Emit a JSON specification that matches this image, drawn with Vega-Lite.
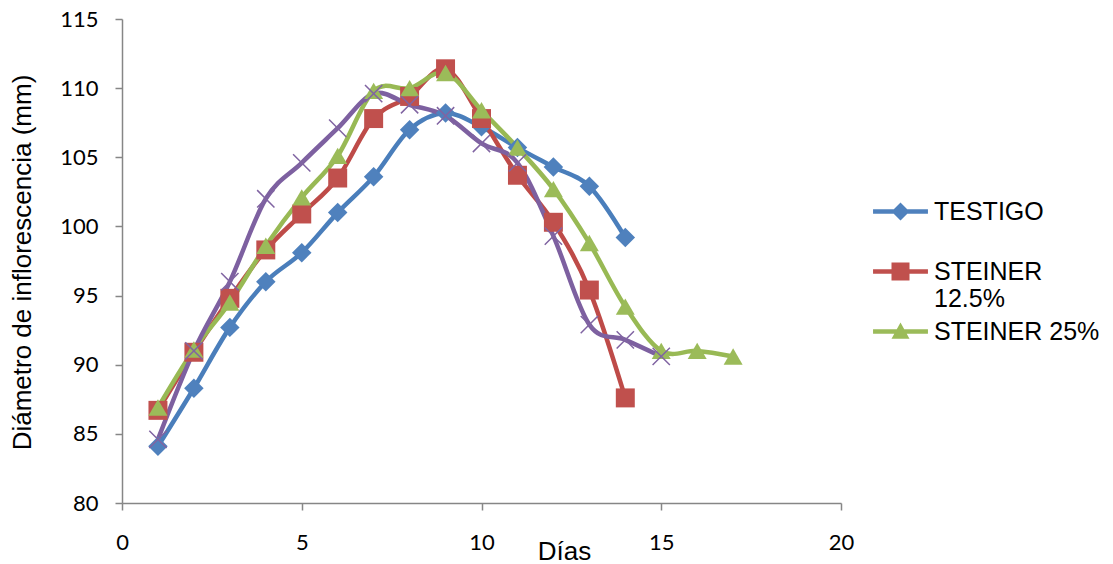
{
  "$schema": "https://vega.github.io/schema/vega-lite/v6.json",
  "width": 719,
  "height": 484,
  "autosize": "none",
  "padding": {"left": 122, "top": 19, "right": 272, "bottom": 61},
  "background": "white",
  "config": {"view": {"stroke": null}},
  "data": {"values": [
    {"series": "TESTIGO", "dia": 1, "diametro": 84.1},
    {"series": "TESTIGO", "dia": 2, "diametro": 88.3},
    {"series": "TESTIGO", "dia": 3, "diametro": 92.7},
    {"series": "TESTIGO", "dia": 4, "diametro": 96.0},
    {"series": "TESTIGO", "dia": 5, "diametro": 98.1},
    {"series": "TESTIGO", "dia": 6, "diametro": 101.0},
    {"series": "TESTIGO", "dia": 7, "diametro": 103.6},
    {"series": "TESTIGO", "dia": 8, "diametro": 107.0},
    {"series": "TESTIGO", "dia": 9, "diametro": 108.2},
    {"series": "TESTIGO", "dia": 10, "diametro": 107.2},
    {"series": "TESTIGO", "dia": 11, "diametro": 105.7},
    {"series": "TESTIGO", "dia": 12, "diametro": 104.3},
    {"series": "TESTIGO", "dia": 13, "diametro": 102.9},
    {"series": "TESTIGO", "dia": 14, "diametro": 99.2},
    {"series": "STEINER 12.5%", "dia": 1, "diametro": 86.7},
    {"series": "STEINER 12.5%", "dia": 2, "diametro": 90.9},
    {"series": "STEINER 12.5%", "dia": 3, "diametro": 94.8},
    {"series": "STEINER 12.5%", "dia": 4, "diametro": 98.3},
    {"series": "STEINER 12.5%", "dia": 5, "diametro": 100.9},
    {"series": "STEINER 12.5%", "dia": 6, "diametro": 103.5},
    {"series": "STEINER 12.5%", "dia": 7, "diametro": 107.8},
    {"series": "STEINER 12.5%", "dia": 8, "diametro": 109.4},
    {"series": "STEINER 12.5%", "dia": 9, "diametro": 111.4},
    {"series": "STEINER 12.5%", "dia": 10, "diametro": 107.8},
    {"series": "STEINER 12.5%", "dia": 11, "diametro": 103.7},
    {"series": "STEINER 12.5%", "dia": 12, "diametro": 100.3},
    {"series": "STEINER 12.5%", "dia": 13, "diametro": 95.4},
    {"series": "STEINER 12.5%", "dia": 14, "diametro": 87.6},
    {"series": "STEINER 25%", "dia": 1, "diametro": 86.9},
    {"series": "STEINER 25%", "dia": 2, "diametro": 91.1},
    {"series": "STEINER 25%", "dia": 3, "diametro": 94.5},
    {"series": "STEINER 25%", "dia": 4, "diametro": 98.6},
    {"series": "STEINER 25%", "dia": 5, "diametro": 102.1},
    {"series": "STEINER 25%", "dia": 6, "diametro": 105.1},
    {"series": "STEINER 25%", "dia": 7, "diametro": 109.8},
    {"series": "STEINER 25%", "dia": 8, "diametro": 110.0},
    {"series": "STEINER 25%", "dia": 9, "diametro": 111.1},
    {"series": "STEINER 25%", "dia": 10, "diametro": 108.4},
    {"series": "STEINER 25%", "dia": 11, "diametro": 105.7},
    {"series": "STEINER 25%", "dia": 12, "diametro": 102.7},
    {"series": "STEINER 25%", "dia": 13, "diametro": 98.8},
    {"series": "STEINER 25%", "dia": 14, "diametro": 94.2},
    {"series": "STEINER 25%", "dia": 15, "diametro": 91.0},
    {"series": "STEINER 25%", "dia": 16, "diametro": 91.0},
    {"series": "STEINER 25%", "dia": 17, "diametro": 90.6},
    {"series": "Serie 4", "dia": 1, "diametro": 84.6},
    {"series": "Serie 4", "dia": 2, "diametro": 91.0},
    {"series": "Serie 4", "dia": 3, "diametro": 96.0},
    {"series": "Serie 4", "dia": 4, "diametro": 102.0},
    {"series": "Serie 4", "dia": 5, "diametro": 104.6},
    {"series": "Serie 4", "dia": 6, "diametro": 107.1},
    {"series": "Serie 4", "dia": 7, "diametro": 109.6},
    {"series": "Serie 4", "dia": 8, "diametro": 108.8},
    {"series": "Serie 4", "dia": 9, "diametro": 108.0},
    {"series": "Serie 4", "dia": 10, "diametro": 106.0},
    {"series": "Serie 4", "dia": 11, "diametro": 104.6},
    {"series": "Serie 4", "dia": 12, "diametro": 99.3},
    {"series": "Serie 4", "dia": 13, "diametro": 92.9},
    {"series": "Serie 4", "dia": 14, "diametro": 91.8},
    {"series": "Serie 4", "dia": 15, "diametro": 90.6}
  ]},
  "encoding": {
    "x": {
      "field": "dia", "type": "quantitative",
      "scale": {"domain": [0, 20], "nice": false, "zero": false},
      "axis": {
        "title": "Días", "values": [0, 5, 10, 15, 20], "grid": false, "labelFlush": false,
        "domainColor": "#868686", "tickColor": "#868686", "tickSize": 7, "domainWidth": 1.5, "tickWidth": 1.5,
        "labelFont": "Lato", "labelFontSize": 22, "labelColor": "#000000", "labelPadding": 22,
        "titleFont": "Liberation Sans", "titleFontSize": 26, "titleFontWeight": "normal", "titleColor": "#000000",
        "titleX": 442, "titleY": 48, "titleBaseline": "middle", "titleAlign": "center"
      }
    },
    "y": {
      "field": "diametro", "type": "quantitative",
      "scale": {"domain": [80, 115], "nice": false, "zero": false},
      "axis": {
        "title": "Diámetro de inflorescencia (mm)", "values": [80, 85, 90, 95, 100, 105, 110, 115], "grid": false, "labelFlush": false,
        "domainColor": "#868686", "tickColor": "#868686", "tickSize": 7, "domainWidth": 1.5, "tickWidth": 1.5,
        "labelFont": "Lato", "labelFontSize": 22, "labelColor": "#000000", "labelPadding": 17,
        "titleFont": "Liberation Sans", "titleFontSize": 26, "titleFontWeight": "normal", "titleColor": "#000000",
        "titleX": -100, "titleY": 243, "titleBaseline": "middle", "titleAlign": "center", "titleAngle": -90
      }
    }
  },
  "layer": [
    {
      "mark": {"type": "line", "interpolate": "cardinal", "strokeWidth": 4.5},
      "encoding": {
        "stroke": {
          "field": "series", "type": "nominal",
          "scale": {"domain": ["TESTIGO", "STEINER 12.5%", "STEINER 25%", "Serie 4"], "range": ["#4A7EBB", "#BE4B48", "#98B954", "#7D60A0"]},
          "legend": null
        },
        "order": {"field": "dia"}
      }
    },
    {
      "transform": [{"filter": "datum.series == 'TESTIGO'"}],
      "mark": {"type": "point", "shape": "diamond", "filled": true, "size": 380, "color": "#4F81BD", "opacity": 1}
    },
    {
      "transform": [{"filter": "datum.series == 'STEINER 12.5%'"}],
      "mark": {"type": "point", "shape": "square", "filled": true, "size": 360, "color": "#C0504D", "opacity": 1}
    },
    {
      "transform": [{"filter": "datum.series == 'STEINER 25%'"}],
      "mark": {"type": "point", "shape": "triangle-up", "filled": true, "size": 360, "color": "#9BBB59", "opacity": 1}
    },
    {
      "transform": [{"filter": "datum.series == 'Serie 4'"}],
      "mark": {"type": "point", "shape": "M-1,-1L1,1M-1,1L1,-1", "filled": false, "size": 300, "color": "#8064A2", "strokeWidth": 1.5, "opacity": 1}
    },
    {
      "transform": [{"filter": {"field": "series", "oneOf": ["TESTIGO", "STEINER 12.5%", "STEINER 25%"]}}],
      "mark": {"type": "point", "filled": true, "opacity": 0},
      "encoding": {
        "color": {
          "field": "series", "type": "nominal",
          "scale": {"domain": ["TESTIGO", "STEINER 12.5%", "STEINER 25%"], "range": ["#4F81BD", "#C0504D", "#9BBB59"]},
          "legend": {
            "title": null, "orient": "none", "legendX": 766, "legendY": 180,
            "labelFont": "Liberation Sans", "labelFontSize": 25, "labelColor": "#000000", "labelLimit": 300,
            "labelOffset": 21, "rowPadding": 7, "symbolSize": 324, "symbolStrokeWidth": 0, "symbolOpacity": 1,
            "labelExpr": "datum.label == 'STEINER 12.5%' ? ['STEINER', '12.5%'] : datum.label == 'TESTIGO' ? ['TESTIGO', ''] : datum.label"
          }
        },
        "shape": {
          "field": "series", "type": "nominal",
          "scale": {"domain": ["TESTIGO", "STEINER 12.5%", "STEINER 25%"], "range": [
            "M-3.05,-0.25H3.05V0.25H-3.05Z M0,-1L1,0L0,1L-1,0Z",
            "M-3.05,-0.25H3.05V0.25H-3.05Z M-1,-1H1V1H-1Z",
            "M-3.05,-0.25H3.05V0.25H-3.05Z M0,-1L1,0.8L-1,0.8Z"
          ]},
          "legend": {
            "title": null, "orient": "none", "legendX": 766, "legendY": 180,
            "labelFont": "Liberation Sans", "labelFontSize": 25, "labelColor": "#000000", "labelLimit": 300,
            "labelOffset": 21, "rowPadding": 7, "symbolSize": 324, "symbolStrokeWidth": 0, "symbolOpacity": 1,
            "labelExpr": "datum.label == 'STEINER 12.5%' ? ['STEINER', '12.5%'] : datum.label == 'TESTIGO' ? ['TESTIGO', ''] : datum.label"
          }
        }
      }
    }
  ]
}
